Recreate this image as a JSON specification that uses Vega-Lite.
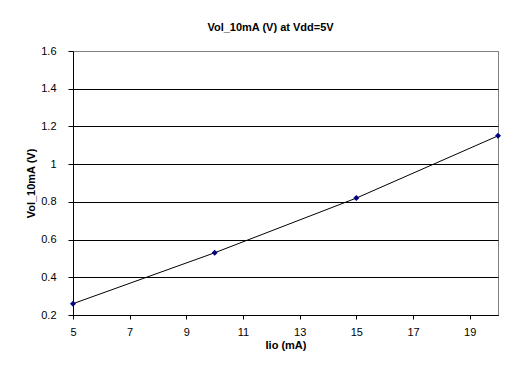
{
  "$schema": "https://vega.github.io/schema/vega-lite/v6.json",
  "width": 425,
  "height": 264,
  "autosize": {"type": "none"},
  "padding": {"left": 73, "top": 51, "right": 15, "bottom": 60},
  "background": "white",
  "title": {
    "text": "Vol_10mA (V) at Vdd=5V",
    "font": "Liberation Sans",
    "fontSize": 11,
    "fontWeight": "bold",
    "color": "black",
    "anchor": "middle",
    "dx": -15,
    "offset": 3,
    "baseline": "alphabetic"
  },
  "data": {
    "values": [
      {"Iio": 5, "Vol": 0.26},
      {"Iio": 10, "Vol": 0.53},
      {"Iio": 15, "Vol": 0.82},
      {"Iio": 20, "Vol": 1.15}
    ]
  },
  "config": {
    "view": {"stroke": "#808080", "strokeWidth": 1},
    "font": "Liberation Sans"
  },
  "encoding": {
    "x": {
      "field": "Iio",
      "type": "quantitative",
      "scale": {"domain": [5, 20], "nice": false, "zero": false},
      "axis": {
        "values": [5, 7, 9, 11, 13, 15, 17, 19],
        "title": "Iio (mA)",
        "grid": false,
        "labelFlush": false,
        "domainColor": "black",
        "tickColor": "black",
        "tickSize": 4,
        "labelFont": "Liberation Sans",
        "labelFontSize": 11,
        "labelColor": "black",
        "labelPadding": 7,
        "titleFont": "Liberation Sans",
        "titleFontSize": 11,
        "titleFontWeight": "bold",
        "titleColor": "black",
        "titlePadding": 2
      }
    },
    "y": {
      "field": "Vol",
      "type": "quantitative",
      "scale": {"domain": [0.2, 1.6], "nice": false, "zero": false},
      "axis": {
        "values": [0.2, 0.4, 0.6, 0.8, 1.0, 1.2, 1.4, 1.6],
        "format": "~g",
        "title": "Vol_10mA (V)",
        "grid": true,
        "labelFlush": false,
        "gridColor": {"condition": {"test": "datum.value >= 1.59", "value": "#808080"}, "value": "black"},
        "gridOpacity": 1,
        "gridWidth": 1,
        "domainColor": "black",
        "tickColor": "black",
        "tickSize": 5,
        "labelFont": "Liberation Sans",
        "labelFontSize": 11,
        "labelColor": "black",
        "labelPadding": 12,
        "titleFont": "Liberation Sans",
        "titleFontSize": 11,
        "titleFontWeight": "bold",
        "titleColor": "black",
        "titlePadding": 4
      }
    }
  },
  "layer": [
    {"mark": {"type": "line", "color": "black", "strokeWidth": 1}},
    {"mark": {"type": "point", "shape": "diamond", "filled": true, "color": "#000080", "size": 36, "opacity": 1}}
  ]
}
